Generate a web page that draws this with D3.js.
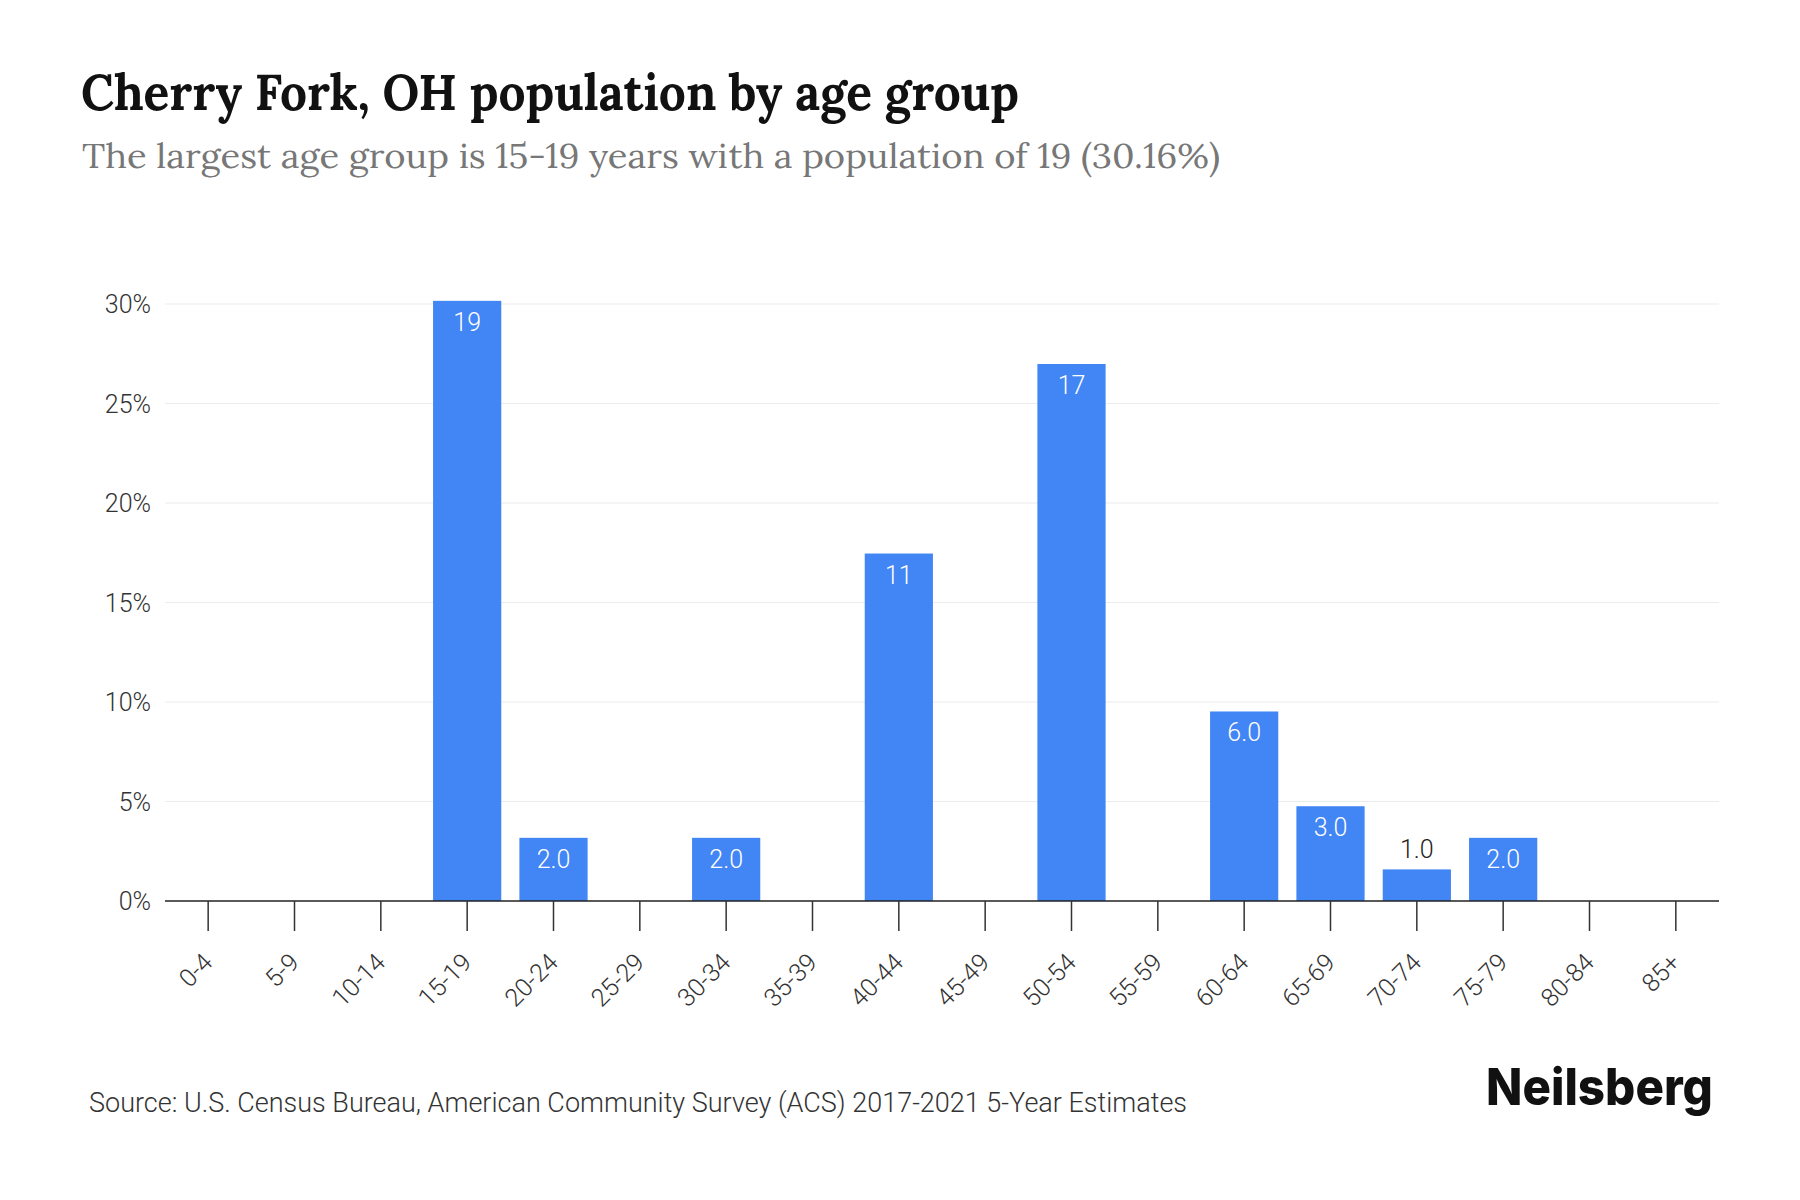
<!DOCTYPE html>
<html>
<head>
<meta charset="utf-8">
<script src="https://cdn.jsdelivr.net/npm/d3@7"></script>
<style>
  html, body { margin: 0; padding: 0; background: #fff; }
  svg { display: block; }
</style>
</head>
<body>
<svg id="chart" width="1800" height="1200"></svg>
<script>
// ---- data ----
const ageGroups = ["0-4","5-9","10-14","15-19","20-24","25-29","30-34","35-39","40-44","45-49","50-54","55-59","60-64","65-69","70-74","75-79","80-84","85+"];
const population = [0, 0, 0, 19, 2, 0, 2, 0, 11, 0, 17, 0, 6, 3, 1, 2, 0, 0];
const yTicks = [0, 5, 10, 15, 20, 25, 30];
const titleText = "Cherry Fork, OH population by age group";
const subtitleText = "The largest age group is 15-19 years with a population of 19 (30.16%)";
const sourceText = "Source: U.S. Census Bureau, American Community Survey (ACS) 2017-2021 5-Year Estimates";
const brandText = "Neilsberg";

const total = d3.sum(population);
const data = ageGroups.map((g, i) => ({ group: g, value: population[i], pct: population[i] / total * 100 }));

const svg = d3.select("#chart");
const BLUE = "#4285f4";

const x = d3.scaleBand().domain(ageGroups).range([165, 1719]).paddingInner(0.21).paddingOuter(0.105);
const y = d3.scaleLinear().domain([0, 30]).range([901, 304]);

// gridlines
svg.append("g")
  .selectAll("line")
  .data(yTicks.filter(t => t > 0))
  .join("line")
  .attr("x1", 165).attr("x2", 1719)
  .attr("y1", d => y(d)).attr("y2", d => y(d))
  .attr("stroke", "#ececec").attr("stroke-width", 1.2);

// y labels
svg.append("g")
  .selectAll("text")
  .data(yTicks)
  .join("text")
  .attr("x", 151).attr("y", d => y(d))
  .attr("dy", "0.36em")
  .attr("text-anchor", "end")
  .attr("font-family", "Roboto, sans-serif").attr("font-weight", 300)
  .attr("font-size", 25).attr("fill", "#333")
  .text(d => d + "%");

// bars
svg.append("g")
  .selectAll("rect")
  .data(data.filter(d => d.value > 0))
  .join("rect")
  .attr("x", d => x(d.group)).attr("width", x.bandwidth())
  .attr("y", d => y(d.pct)).attr("height", d => y(0) - y(d.pct))
  .attr("fill", BLUE);

// bar labels
const fmt = v => v >= 10 ? d3.format(".0f")(v) : d3.format(".1f")(v);
svg.append("g")
  .selectAll("text")
  .data(data.filter(d => d.value > 0))
  .join("text")
  .attr("x", d => x(d.group) + x.bandwidth() / 2)
  .attr("y", d => {
    const h = y(0) - y(d.pct);
    return h > 45 ? y(d.pct) + 30 : y(d.pct) - 11;
  })
  .attr("text-anchor", "middle")
  .attr("font-family", "Roboto, sans-serif").attr("font-weight", 300)
  .attr("font-size", 25)
  .attr("fill", d => (y(0) - y(d.pct)) > 45 ? "#fff" : "#222")
  .text(d => fmt(d.value));

// x axis
const xAxis = svg.append("g");
xAxis.append("line")
  .attr("x1", 165).attr("x2", 1719).attr("y1", 901).attr("y2", 901)
  .attr("stroke", "#222").attr("stroke-width", 1.5);
xAxis.selectAll("line.tick")
  .data(ageGroups)
  .join("line").attr("class", "tick")
  .attr("x1", d => x(d) + x.bandwidth() / 2).attr("x2", d => x(d) + x.bandwidth() / 2)
  .attr("y1", 901).attr("y2", 931)
  .attr("stroke", "#333").attr("stroke-width", 1.5);
xAxis.selectAll("text")
  .data(ageGroups)
  .join("text")
  .attr("transform", d => `translate(${x(d) + x.bandwidth() / 2 + 6},${964}) rotate(-45)`)
  .attr("text-anchor", "end")
  .attr("font-family", "Roboto, sans-serif").attr("font-weight", 300)
  .attr("font-size", 25).attr("fill", "#333")
  .text(d => d);

// title & subtitle
svg.append("text")
  .attr("x", 81).attr("y", 110)
  .attr("font-family", "Lora, 'Liberation Serif', serif").attr("font-weight", 700)
  .attr("font-size", 50).attr("fill", "#111")
  .attr("textLength", 938).attr("lengthAdjust", "spacingAndGlyphs")
  .text(titleText);
svg.append("text")
  .attr("x", 82).attr("y", 168)
  .attr("font-family", "Lora, 'Liberation Serif', serif").attr("font-weight", 400)
  .attr("font-size", 35).attr("fill", "#777")
  .attr("textLength", 1138).attr("lengthAdjust", "spacingAndGlyphs")
  .text(subtitleText);

// source
svg.append("text")
  .attr("x", 89).attr("y", 1112)
  .attr("font-family", "Roboto, sans-serif").attr("font-weight", 300)
  .attr("font-size", 27).attr("fill", "#333")
  .text(sourceText);

// brand
svg.append("text")
  .attr("x", 1713).attr("y", 1105)
  .attr("text-anchor", "end")
  .attr("font-family", "Inter, sans-serif").attr("font-weight", 800)
  .attr("font-size", 51).attr("fill", "#111")
  .attr("textLength", 227).attr("lengthAdjust", "spacingAndGlyphs")
  .text(brandText);
</script>
</body>
</html>
